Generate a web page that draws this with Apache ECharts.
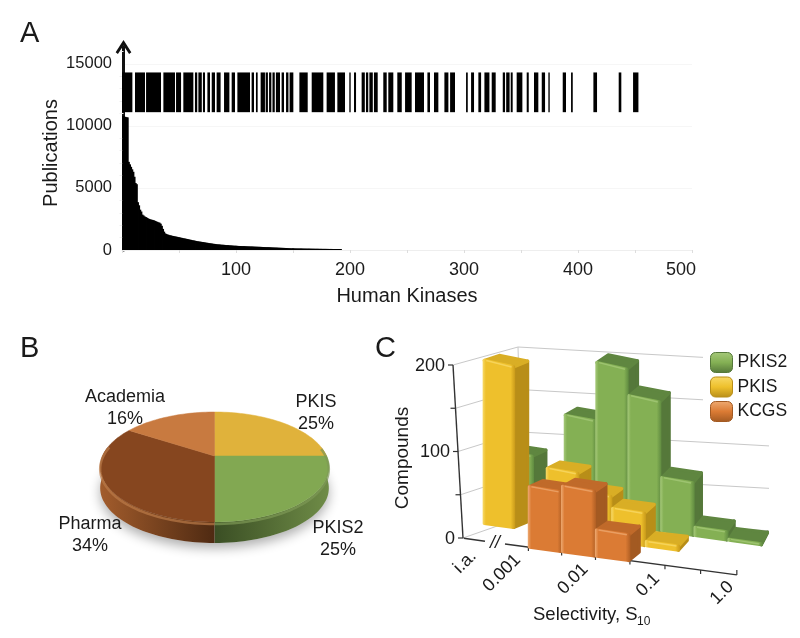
<!DOCTYPE html>
<html><head><meta charset="utf-8">
<style>html,body{margin:0;padding:0;background:#fff}#c{width:800px;height:638px}</style>
<script src="https://cdn.jsdelivr.net/npm/echarts@6/dist/echarts.min.js"></script>
</head><body><div id="c"></div>
<script>
// ---------- DATA ----------
// Panel A: publications per kinase, by rank (1..192)
const publications = [
10800,10750,10720,10700,10680,7100,6900,6700,6500,6300,5900,5400,5300,3850,3600,3250,3100,2850,2780,2700,
2650,2600,2550,2500,2470,2440,2420,2390,2350,2310,2270,2230,2200,2120,1950,1700,1480,1340,1290,1250,
1220,1190,1170,1150,1130,1110,1090,1070,1050,1030,1010,990,970,950,930,910,890,870,850,830,
810,790,770,750,730,710,700,680,670,650,640,620,610,590,580,560,550,530,520,505,
495,480,470,455,450,440,430,425,420,410,400,395,390,380,375,370,360,350,345,340,
335,330,325,320,318,314,310,306,302,298,294,290,286,282,278,274,270,266,262,258,
254,250,246,242,238,234,230,226,222,220,215,210,205,200,196,192,188,184,180,176,
172,168,164,160,155,150,145,140,135,134,132,130,128,126,125,123,122,120,118,116,
115,113,112,110,108,107,105,104,102,100,99,98,96,95,94,92,91,90,89,88,
87,86,85,84,83,82,81,80,80,80,80,80];
// Panel A: barcode stripes, start / end in kinase rank units
const stripeStart = [0,11.4,21.1,36.3,47.4,53.8,64,67,71,74.9,78.7,83,89.5,96.2,101.2,113.7,117.5,121.6,126,129,132,135,140,143.9,147,155.6,166.4,179.5,188.9,199.4,203.5,210.2,214,217,221,229.2,233.6,241.5,248.3,257,267.9,273.7,282.8,287.8,301.8,306.2,312.6,317.9,324.3,334,337,341,346.2,355,361.4,368.2,374,386.6,393.9,413.5,435.7,448.3];
const stripeEnd   = [9.1,20.2,34.2,46.5,51.8,62.6,66,70,72.8,77.2,81.6,86.5,94.2,99.1,112.3,115.8,119,125.4,128,131,134,138.6,142.1,146,150.3,162.9,176.6,186.8,195.6,200.6,205.3,213,216,220,224.3,232.2,238,245.4,254.1,264.9,270.2,277.5,286.3,292.1,303.3,308.8,315,322.3,327.8,336,340,342.7,351.2,356.8,365.2,371.1,375.2,389.5,395.4,416.7,438,453];
const stripeLow = 11100, stripeHigh = 14300;
// Panel B
const pieNames  = ['PKIS','PKIS2','Pharma','Academia'];
const pieValues = [25,25,34,16];
// Panel C
const binLabels = ['i.a.','0.001','0.01','0.1','1.0'];
const compoundTicks = [0,100,200];
const pkis2Counts = [70,0,125,195,160,65,10,1];
const pkisCounts  = [200,0,78,55,40,5,0,0];
const kcgsCounts  = [0,0,74,80,32,0,0,0];

// ---------- STYLE / LAYOUT ----------
const FONT = '"Liberation Sans", Arial, sans-serif', INK = '#1a1a1a';
const pieColors = ['#E0B23B','#82A852','#86461F','#C87A40'];
const pieSide = {1:['#6f8c47','#3a4e24'],2:['#a25c2c','#4f2a12']};
const pieLabelPos = [[316,413],[338,539],[90,535],[125,408]];
const PIE = {cx:214.5,cy:456,rx:112,ry:52.8,k:0.2,depth:21};
const binLabelPos = [[465,562],[502,573],[573,579],[648,585],[722,593]];
const pal = {
  PKIS2:{f:'#84B054',l:'#a6c97a',d:'#5f8a40',s:'#55783A',t:'#5f8640'},
  PKIS :{f:'#EEC02C',l:'#f8da68',d:'#c99a1a',s:'#B88E18',t:'#D9AE25'},
  KCGS :{f:'#DB7B34',l:'#eeaa72',d:'#b05f24',s:'#A35A22',t:'#C06A2A'}
};
const G = echarts.graphic;

// Perspective disc for the pie
function piePoint(deg,dy){
  const a=deg*Math.PI/180, X=Math.sin(a), Y=Math.cos(a), s=1/(1+PIE.k*Y);
  return [PIE.cx+PIE.rx*X*s, PIE.cy+(dy||0)-PIE.ry*Y*s];
}
function sliceRange(i){
  let s=0;for(let k=0;k<i;k++)s+=pieValues[k];
  return [s*3.6,(s+pieValues[i])*3.6];
}
function arc(a,b,dy){const p=[];for(let d=a;d<b;d+=2)p.push(piePoint(d,dy));p.push(piePoint(b,dy));return p;}

// 3D projection for panel C: value scale and bin scale come from the hidden grid
function floorPt(api,c,r){
  const x0=api.coord([c,0])[0]+0.299*c*c;
  const y0=538.3+0.134*(x0-463.7);
  return [x0+r*(18-0.025*(x0-528)), y0-r*15];
}
function depthVec(x){return [15-0.032*(x-483), 5+0.024*(x-483)];}
function bar3d(key,r){
  const P=pal[key];
  return function(params,api){
    const c=api.value(0), v=api.value(1);
    if(!v) return {type:'group',children:[]};
    const h=api.coord([0,0])[1]-api.coord([0,v])[1];
    const a=floorPt(api,c+0.03,r), b=floorPt(api,c+0.97,r);
    const A=[a[0],a[1]-h], B=[b[0],b[1]-h*0.985];
    const d1=depthVec(a[0]), d2=depthVec(b[0]);
    const Ab=[A[0]+d1[0],A[1]-d1[1]], Bb=[B[0]+d2[0],B[1]-d2[1]], bb=[b[0]+d2[0],b[1]-d2[1]];
    const st=(fill)=>({fill:fill,stroke:fill,lineWidth:3.2,lineJoin:'round'});
    const grad=()=>new G.LinearGradient(0,0,1,0,[{offset:0,color:P.l},{offset:0.1,color:P.f},{offset:0.86,color:P.f},{offset:1,color:P.d}]);
    return {type:'group',children:[
      {type:'polygon',shape:{points:[B,Bb,bb,b]},style:st(P.s)},
      {type:'polygon',shape:{points:[A,Ab,Bb,B]},style:st(P.t)},
      {type:'polygon',shape:{points:[a,b,B,A]},style:{fill:grad(),stroke:grad(),lineWidth:3.2,lineJoin:'round'}},
      {type:'polyline',shape:{points:[[A[0]+2,A[1]],[B[0]-2,B[1]]]},style:{stroke:P.l,lineWidth:1.5,fill:null,opacity:0.75}}
    ]};
  };
}
function frameC(params,api){
  const kids=[], line=(p,q,col,w)=>kids.push({type:'line',shape:{x1:p[0],y1:p[1],x2:q[0],y2:q[1]},style:{stroke:col,lineWidth:w}});
  const H=api.coord([0,0])[1]-api.coord([0,200])[1];
  const axisPt=v=>{const t=(api.coord([0,0])[1]-api.coord([0,v])[1])/H;return [463-10*t,538-173*t];};
  const backPt=v=>{const t=(api.coord([0,0])[1]-api.coord([0,v])[1])/H;return [523-5*t,517-170*t];};
  [0,50,100,150,200].forEach(v=>{
    const p=axisPt(v), q=backPt(v), e=v>=150?703:769;
    line(p,q,'#c8c8c8',1);
    line(q,[e,q[1]+0.056*(e-q[0])],'#c8c8c8',1);
    line(p,[p[0]-5,p[1]],'#333',1.2);
  });
  line(backPt(0),backPt(200),'#c8c8c8',1);
  line(axisPt(0),axisPt(200),'#333',1.4);
  compoundTicks.forEach(v=>{
    const p=axisPt(v);
    kids.push({type:'text',x:p[0]-8,y:p[1]+1,style:{text:String(v),font:'18px '+FONT,fill:INK,align:'right',verticalAlign:'middle'}});
  });
  // front axis with a break
  const f0=floorPt(api,0,0), f1=floorPt(api,8,0);
  const brkA=[485,541.3], brkB=[505,544];
  line(f0,brkA,'#333',1.4); line(brkB,f1,'#333',1.4);
  for(let c=2;c<=8;c++){const p=floorPt(api,c,0);line(p,[p[0],p[1]+(c===8?-5:4)],'#333',1.2);}
  kids.push({type:'text',x:495,y:543,style:{text:'//',font:'italic 18px '+FONT,fill:INK,align:'center',verticalAlign:'middle'}});
  binLabels.forEach((t,i)=>kids.push({type:'text',x:binLabelPos[i][0],y:binLabelPos[i][1],rotation:Math.PI/4,
    style:{text:t,font:'18px '+FONT,fill:INK,align:'center',verticalAlign:'middle'}}));
  return {type:'group',children:kids};
}

const chart = echarts.init(document.getElementById('c'),null,{renderer:'canvas'});
const rows = (arr)=>arr.map((v,i)=>[i,v]);
const legendFill=(k)=>({color:new G.LinearGradient(0,0,0,1,[{offset:0,color:pal[k].l},{offset:0.5,color:pal[k].f},{offset:1,color:pal[k].s}]),borderColor:pal[k].s,borderWidth:1});

chart.setOption({
  animation:false,
  backgroundColor:'#fff',
  textStyle:{fontFamily:FONT,color:INK},
  title:[
    {text:'A',left:15,top:14,textStyle:{fontSize:29,fontWeight:'normal',color:INK,fontFamily:FONT}},
    {text:'B',left:15,top:329,textStyle:{fontSize:29,fontWeight:'normal',color:INK,fontFamily:FONT}},
    {text:'C',left:370,top:329,textStyle:{fontSize:29,fontWeight:'normal',color:INK,fontFamily:FONT}}
  ],
  grid:[
    {left:122,top:47,width:570,height:203},
    {left:463.7,top:375,width:254,height:163}
  ],
  xAxis:[
    {gridIndex:0,type:'value',min:0,max:500,interval:100,
     name:'Human Kinases',nameLocation:'middle',nameGap:36,nameTextStyle:{fontSize:20,color:INK},
     axisLine:{show:true,onZero:false,lineStyle:{color:'#eeeeee',width:1}},
     axisTick:{show:true,length:3,lineStyle:{color:'#dddddd'}},
     minorTick:{show:true,splitNumber:2,length:3,lineStyle:{color:'#dddddd'}},
     splitLine:{show:false},
     axisLabel:{margin:11,fontSize:18,color:INK,
       formatter:v=>v===0?'':(v===500?'{last|500}':String(v)),
       rich:{last:{fontSize:18,color:INK,padding:[0,22,0,0]}}}},
    {gridIndex:1,type:'value',min:0,max:8,show:false}
  ],
  yAxis:[
    {gridIndex:0,type:'value',min:0,max:16350,interval:5000,offset:-1.5,
     axisLine:{show:true,lineStyle:{color:'#111',width:3},symbol:['none','path://M7 0 L14 11 L12 12.5 L7 5 L2 12.5 L0 11 Z'],symbolSize:[16,14],symbolOffset:[0,0]},
     axisTick:{show:false},
     minorTick:{show:true,splitNumber:5,length:4,lineStyle:{color:'#eeeeee'}},
     splitLine:{show:true,showMaxLine:false,lineStyle:{color:'#f6f6f6',width:1}},
     axisLabel:{margin:11.5,fontSize:16.5,color:INK,showMaxLabel:false,padding:[3,0,0,0],formatter:v=>String(v)}},
    {gridIndex:1,type:'value',min:0,max:200,show:false}
  ],
  legend:{left:705,top:347,orient:'vertical',itemWidth:22,itemHeight:20,itemGap:3.5,
    icon:'roundRect',textStyle:{fontSize:17.5,color:INK,padding:[1,0,0,0]},
    selectedMode:false,
    data:[{name:'PKIS2',itemStyle:legendFill('PKIS2')},{name:'PKIS',itemStyle:legendFill('PKIS')},{name:'KCGS',itemStyle:legendFill('KCGS')}]},
  graphic:[
    {type:'text',x:51,y:153,rotation:Math.PI/2,z:20,style:{text:'Publications',font:'20px '+FONT,fill:INK,align:'center',verticalAlign:'middle'}},
    {type:'text',left:533,top:605,z:20,style:{text:'Selectivity, S',font:'18.5px '+FONT,fill:INK}},
    {type:'text',left:637,top:616,z:20,style:{text:'10',font:'12px '+FONT,fill:INK}},
    {type:'text',x:403,y:458,rotation:Math.PI/2,z:20,style:{text:'Compounds',font:'19px '+FONT,fill:INK,align:'center',verticalAlign:'middle'}}
  ],
  series:[
    {name:'Publications',type:'bar',xAxisIndex:0,yAxisIndex:0,barWidth:2,barGap:'-100%',
     itemStyle:{color:'#000'},silent:true,data:publications.map((v,i)=>[i+1,v])},
    {name:'Stripes',type:'custom',xAxisIndex:0,yAxisIndex:0,silent:true,
     encode:{x:[0,1]},
     renderItem:(p,api)=>{
       const a=api.coord([api.value(0),stripeHigh]), b=api.coord([api.value(1),stripeLow]);
       return {type:'rect',shape:{x:a[0],y:a[1],width:b[0]-a[0],height:b[1]-a[1]},style:{fill:'#000'}};
     },
     data:stripeStart.map((s,i)=>[s,stripeEnd[i]])},
    // Panel B
    {name:'PieShadow',type:'custom',coordinateSystem:'none',silent:true,data:[[1]],z:2,
     renderItem:()=>{
       const p=arc(90,450,PIE.depth);
       return {type:'polygon',shape:{points:p},style:{fill:'#d8d8d8',shadowBlur:12,shadowColor:'rgba(0,0,0,.32)',shadowOffsetY:5}};
     }},
    {name:'PieSide',type:'custom',coordinateSystem:'none',silent:true,z:3,
     data:pieValues.map((v,i)=>[i,v]),
     renderItem:(params,api)=>{
       const i=api.value(0), r=sliceRange(i), a=Math.max(r[0],80), b=Math.min(r[1],280);
       if(b<=a) return {type:'group',children:[]};
       const top=arc(a,b,0), bot=arc(a,b,PIE.depth).reverse(), sc=pieSide[i]||['#888','#555'];
       const dirLR = i===2;
       return {type:'polygon',shape:{points:top.concat(bot)},style:{
         fill:new G.LinearGradient(dirLR?0:1,0,dirLR?1:0,0,[{offset:0,color:sc[0]},{offset:1,color:sc[1]}])}};
     }},
    {name:'PieTop',type:'custom',coordinateSystem:'none',silent:true,z:4,
     data:pieValues.map((v,i)=>[i,v]),
     renderItem:(params,api)=>{
       const i=api.value(0), r=sliceRange(i);
       const pts=[[PIE.cx,PIE.cy]].concat(arc(r[0],r[1],0));
       const kids=[{type:'polygon',shape:{points:pts},style:{fill:pieColors[i],stroke:pieColors[i],lineWidth:0.5}}];
       if(i===2){kids.push({type:'polyline',shape:{points:arc(r[0],r[1]>282?282:r[1],2)},style:{fill:null,stroke:'#bb7a48',lineWidth:2.5,opacity:.7}});}
       if(i===1){kids.push({type:'polyline',shape:{points:arc(80,r[1],2)},style:{fill:null,stroke:'#7d9856',lineWidth:2.5,opacity:.7}});}
       const L=pieLabelPos[i];
       kids.push({type:'text',x:L[0],y:L[1],z2:10,style:{text:pieNames[i]+'\n'+api.value(1)+'%',font:'18px '+FONT,fill:INK,align:'center',verticalAlign:'middle',lineHeight:22}});
       return {type:'group',children:kids};
     }},
    // Panel C
    {name:'Frame',type:'custom',xAxisIndex:1,yAxisIndex:1,silent:true,z:2,data:[[0,0]],clip:false,renderItem:frameC},
    {name:'PKIS2',type:'custom',xAxisIndex:1,yAxisIndex:1,silent:true,z:3,clip:false,itemStyle:{color:pal.PKIS2.f},renderItem:bar3d('PKIS2',2),data:rows(pkis2Counts)},
    {name:'PKIS',type:'custom',xAxisIndex:1,yAxisIndex:1,silent:true,z:4,clip:false,itemStyle:{color:pal.PKIS.f},renderItem:bar3d('PKIS',1),data:rows(pkisCounts)},
    {name:'KCGS',type:'custom',xAxisIndex:1,yAxisIndex:1,silent:true,z:5,clip:false,itemStyle:{color:pal.KCGS.f},renderItem:bar3d('KCGS',0),data:rows(kcgsCounts)}
  ]
});
</script></body></html>
